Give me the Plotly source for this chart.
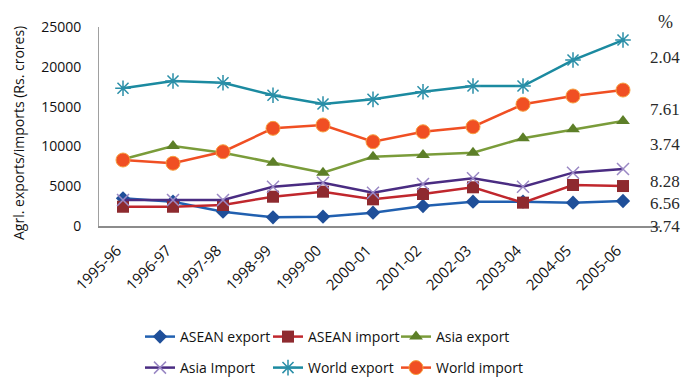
import plotly.graph_objects as go

years = ["1995-96", "1996-97", "1997-98", "1998-99", "1999-00", "2000-01",
         "2001-02", "2002-03", "2003-04", "2004-05", "2005-06"]

asean_export = [3480, 3050, 1800, 1090, 1170, 1670, 2510, 3050, 3050, 2930, 3140]
asean_import = [2420, 2420, 2640, 3680, 4310, 3350, 4020, 4860, 2930, 5150, 5020]
asia_export = [8380, 10050, 9210, 7950, 6700, 8700, 8920, 9210, 11020, 12150, 13190]
asia_import = [3270, 3270, 3270, 4940, 5440, 4180, 5280, 5990, 4940, 6700, 7160]
world_export = [17300, 18210, 18000, 16420, 15320, 15910, 16870, 17580, 17580, 20850, 23360]
world_import = [8290, 7880, 9330, 12270, 12690, 10590, 11840, 12470, 15290, 16330, 17080]

y_ticks = [0, 5000, 10000, 15000, 20000, 25000]
y_tick_text = ["0", "5000", "10000", "15000", "20000", "25000"]

growth_labels = ["%", "2.04", "7.61", "3.74", "8.28", "6.56", "3.74"]
growth_label_y = [22, 57, 109, 144, 181, 203, 226]  # pixel rows in the reference

series = [
    ("ASEAN export", asean_export, "#2160b0", dict(symbol="diamond", size=11, color="#1f4f99"), "legend"),
    ("ASEAN import", asean_import, "#c0272d", dict(symbol="square", size=12, color="#8e2a2f"), "legend"),
    ("Asia export", asia_export, "#7a9c3a", dict(symbol="triangle-up", size=12, color="#5d7f28"), "legend"),
    ("Asia Import", asia_import, "#4a2c82", dict(symbol="x-thin-open", size=12, color="#9a88c4", line=dict(width=1.5, color="#9a88c4")), "legend2"),
    ("World export", world_export, "#1b8aa0", dict(symbol="asterisk-open", size=13, color="#2b8fa8", line=dict(width=1.5, color="#2b8fa8")), "legend2"),
    ("World import", world_import, "#f04f23", dict(symbol="circle", size=14, color="#f04f23", line=dict(width=1, color="#f7a040")), "legend2"),
]

fig = go.Figure()
for name, vals, lc, mk, lg in series:
    fig.add_trace(go.Scatter(x=years, y=vals, name=name, mode="lines+markers",
                             line=dict(color=lc, width=2.5), marker=mk, legend=lg))

W, H = 683, 378
L, R, T, B = 99, 23, 27, 152
plot_h = H - T - B

annotations = []
for txt, py in zip(growth_labels, growth_label_y):
    annotations.append(dict(text=txt, xref="paper", yref="paper",
                            x=(665 - L) / (W - L - R), y=(H - B - py) / plot_h,
                            xanchor="center", yanchor="middle", showarrow=False,
                            font=dict(family="Liberation Serif", size=18 if txt == "%" else 17, color="#2a2a2a")))
annotations.append(dict(text="Agrl. exports/imports (Rs. crores)", xref="paper", yref="paper",
                        x=(18 - L) / (W - L - R), y=(H - B - 133) / plot_h, textangle=-90,
                        xanchor="center", yanchor="middle", showarrow=False,
                        font=dict(family="Open Sans", size=14, color="#111111")))

legend_common = dict(orientation="h", xref="container", yref="container", xanchor="left", yanchor="middle",
                     x=(140) / W, font=dict(family="Open Sans", size=14, color="#111111"),
                     entrywidth=83, entrywidthmode="pixels", bgcolor="rgba(0,0,0,0)", tracegroupgap=0)

fig.update_layout(
    width=W, height=H, margin=dict(l=L, r=R, t=T, b=B),
    paper_bgcolor="white", plot_bgcolor="white",
    font=dict(family="Open Sans", size=14, color="#111111"),
    showlegend=True,
    legend=dict(**legend_common, y=1 - 337 / H),
    legend2=dict(**legend_common, y=1 - 368 / H),
    annotations=annotations,
    xaxis=dict(type="category", range=[-0.48, 10.74], showgrid=False, showline=True,
               linecolor="#8c8c8c", linewidth=1.5, tickangle=-45, ticks="outside", ticklen=8,
               tickcolor="rgba(0,0,0,0)", ticklabelshift=-6,
               tickfont=dict(family="Open Sans", size=15, color="#111111"), zeroline=False),
    yaxis=dict(range=[0, 25000], tickvals=y_ticks, ticktext=y_tick_text, showgrid=False,
               showline=True, linecolor="#a0a0a0", linewidth=1, ticks="outside", ticklen=14,
               tickcolor="rgba(0,0,0,0)", zeroline=False,
               tickfont=dict(family="Open Sans", size=14, color="#111111")),
)

fig.write_html("out.html")
